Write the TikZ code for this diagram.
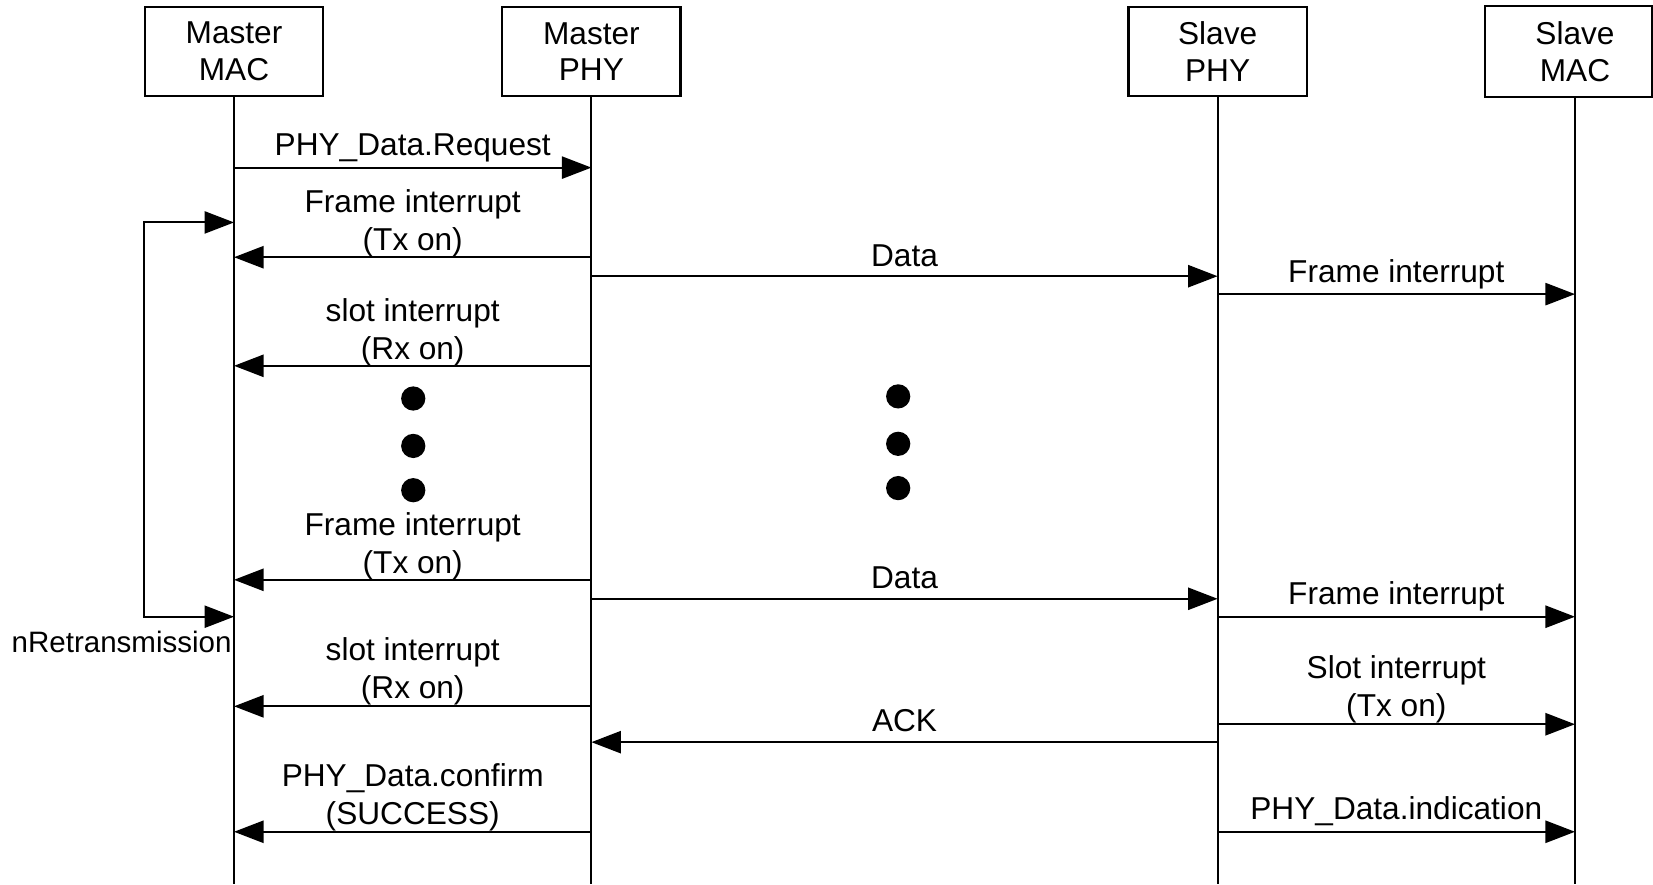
\documentclass[tikz,border=0pt]{standalone}
\usepackage{fontspec}
\setmainfont{Liberation Sans}
\usetikzlibrary{arrows.meta}
\begin{document}
\begin{tikzpicture}[x=0.5pt,y=-0.5pt,
  box/.style={draw, line width=1pt, minimum width=84.5pt, minimum height=42pt, inner sep=0pt, align=center, font=\fontsize{15}{17.5}\selectfont},
  life/.style={line width=1pt},
  tip/.tip={Triangle[length=14pt,width=10.5pt]},
  msg/.style={line width=1pt, -tip},
  lbl/.style={align=center, inner sep=0pt, font=\fontsize{15}{18}\selectfont},
  sidelbl/.style={inner sep=0pt, font=\fontsize{14}{16}\selectfont},
  dot/.style={circle, fill=black, minimum size=11.5pt, inner sep=0pt}]
\useasboundingbox (0,0) rectangle (1568,839);
% participants
\node[box] (mmac) at (222,49) {Master\\MAC};
\node[box] (mphy) at (561,49) {Master\\PHY};
\node[box] (sphy) at (1155,49) {Slave\\PHY};
\node[box, draw=none] (smac) at (1494,49) {Slave\\MAC};
\coordinate (edge) at (1567,0);
\draw[life] (edge |- smac.north) -- (smac.north west) -- (smac.south west) -- (edge |- smac.south) -- cycle;
% lifelines
\coordinate (bot) at (0,839);
\draw[life] (mmac.south) -- (mmac.south |- bot);
\draw[life] (mphy.south) -- (mphy.south |- bot);
\draw[life] (sphy.south) -- (sphy.south |- bot);
\draw[life] (smac.south) -- (smac.south |- bot);
% rows
\coordinate (r1) at (0,159);
\coordinate (r2) at (0,244);
\coordinate (r3) at (0,262);
\coordinate (r4) at (0,279);
\coordinate (r5) at (0,347);
\coordinate (r6) at (0,550);
\coordinate (r7) at (0,568);
\coordinate (r8) at (0,585);
\coordinate (r9) at (0,670);
\coordinate (r10) at (0,687);
\coordinate (r11) at (0,704);
\coordinate (r12) at (0,789);
% messages
\draw[msg] (mmac |- r1) -- node[lbl, yshift=9.5pt] {PHY\_Data.Request} (mphy |- r1);
\draw[msg] (mphy |- r2) -- node[lbl, yshift=16pt] {Frame interrupt\\(Tx on)} (mmac |- r2);
\draw[msg] (mphy |- r3) -- node[lbl, yshift=9.5pt] {Data} (sphy |- r3);
\draw[msg] (sphy |- r4) -- node[lbl, yshift=9.5pt] {Frame interrupt} (smac |- r4);
\draw[msg] (mphy |- r5) -- node[lbl, yshift=16pt] {slot interrupt\\(Rx on)} (mmac |- r5);
\draw[msg] (mphy |- r6) -- node[lbl, yshift=16pt] {Frame interrupt\\(Tx on)} (mmac |- r6);
\draw[msg] (mphy |- r7) -- node[lbl, yshift=10pt] {Data} (sphy |- r7);
\draw[msg] (sphy |- r8) -- node[lbl, yshift=9.5pt] {Frame interrupt} (smac |- r8);
\draw[msg] (mphy |- r9) -- node[lbl, yshift=16.5pt] {slot interrupt\\(Rx on)} (mmac |- r9);
\draw[msg] (sphy |- r10) -- node[lbl, yshift=16.5pt] {Slot interrupt\\(Tx on)} (smac |- r10);
\draw[msg] (sphy |- r11) -- node[lbl, yshift=10pt] {ACK} (mphy |- r11);
\draw[msg] (mphy |- r12) -- node[lbl, yshift=16.5pt] {PHY\_Data.confirm\\(SUCCESS)} (mmac |- r12);
\draw[msg] (sphy |- r12) -- node[lbl, yshift=10pt] {PHY\_Data.indication} (smac |- r12);
% retransmission loop
\coordinate (lt) at (137,211);
\coordinate (lb) at (137,585);
\draw[line width=1pt, tip-tip] (mmac |- lt) -- (lt) -- (lb) -- (mmac |- lb);
\node[sidelbl, anchor=east] (nre) at (220,609) {nRetransmission};
% ellipsis dots
\node[dot] (d1) at (392,378) {};
\node[dot] (d2) at (392,423) {};
\node[dot] (d3) at (392,465) {};
\node[dot] (d4) at (852,376) {};
\node[dot] (d5) at (852,421) {};
\node[dot] (d6) at (852,463) {};
\end{tikzpicture}
\end{document}
